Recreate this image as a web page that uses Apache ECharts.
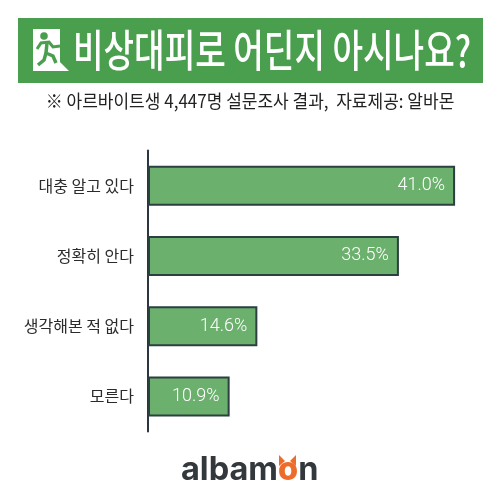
<!DOCTYPE html>
<html><head><meta charset="utf-8">
<style>html,body{margin:0;padding:0;background:#fff}#c{width:500px;height:500px}</style>
<script src="https://cdn.jsdelivr.net/npm/echarts@6/dist/echarts.min.js"></script>
</head><body><div id="c"></div>
<script>
var categories = ['대충 알고 있다', '정확히 안다', '생각해본 적 없다', '모른다'];
var values = [41.0, 33.5, 14.6, 10.9];
var titleText = '비상대피로 어딘지 아시나요?';
var subtitleText = '※ 아르바이트생 4,447명 설문조사 결과,  자료제공: 알바몬';
var KR = '"Noto Sans CJK KR","Noto Sans",sans-serif';
var G = '#4a9f4e';
var chart = echarts.init(document.getElementById('c'), null, {renderer:'canvas'});
chart.setOption({
  animation:false,
  backgroundColor:'#fff',
  grid:{left:148,top:150.5,width:337.05,height:281,containLabel:false},
  xAxis:{type:'value',min:0,max:45,show:false},
  yAxis:{type:'category',inverse:true,data:categories,
    axisLine:{show:true,lineStyle:{color:'#2b3740',width:2}},
    axisTick:{show:false},
    axisLabel:{color:'#2b2b2b',fontSize:16,fontFamily:KR,margin:14}},
  series:[{type:'bar',data:values,barWidth:40,
    itemStyle:{color:'#6bb06d',borderColor:'#2d3f40',borderWidth:2},
    label:{show:true,position:'insideRight',distance:10,color:'#fff',fontSize:18,fontWeight:300,fontFamily:'Roboto,sans-serif',
      formatter:function(p){return p.value.toFixed(1)+'%';}}}],
  graphic:[
    {type:'rect',shape:{x:18,y:18,width:465,height:65},style:{fill:G}},
    {type:'text',x:73,y:50,scaleX:0.755,style:{text:titleText,fill:'#fff',font:'500 44px '+KR,textVerticalAlign:'middle',textAlign:'left'}},
    {type:'text',x:250,y:101,scaleX:0.945,style:{text:subtitleText,fill:'#222',font:'400 18px '+KR,textAlign:'center',textVerticalAlign:'middle'}},
    {type:'polygon',shape:{points:[[33,29],[60,29],[60,62],[69,71],[33,71]]},style:{fill:'#fff'}},
    {type:'circle',shape:{cx:44,cy:36,r:3.8},style:{fill:G}},
    {type:'polyline',shape:{points:[[37,49],[41,43],[49,42],[53,47],[60,46]]},style:{stroke:G,lineWidth:3,fill:null}},
    {type:'polyline',shape:{points:[[47,43],[46,53],[53,56],[56,63]]},style:{stroke:G,lineWidth:3.5,fill:null}},
    {type:'polyline',shape:{points:[[46,53],[44,60],[38,65]]},style:{stroke:G,lineWidth:3.5,fill:null}},
    {type:'text',x:181,y:470,style:{rich:{a:{fill:'#33383c',fontSize:32.5,fontWeight:700,fontFamily:'Inter,Lato,sans-serif'},b:{fill:'#ee6c2b',fontSize:32.5,fontWeight:800,fontFamily:'Inter,Lato,sans-serif'}},text:'{a|albam}{b|o}{a|n}',textVerticalAlign:'middle',textAlign:'left'}},
    {type:'polygon',shape:{points:[[279,455],[285,461],[279,466]]},style:{fill:'#ee6c2b'}},
    {type:'polygon',shape:{points:[[296,455],[290,461],[296,466]]},style:{fill:'#ee6c2b'}}
  ]
});
</script></body></html>
